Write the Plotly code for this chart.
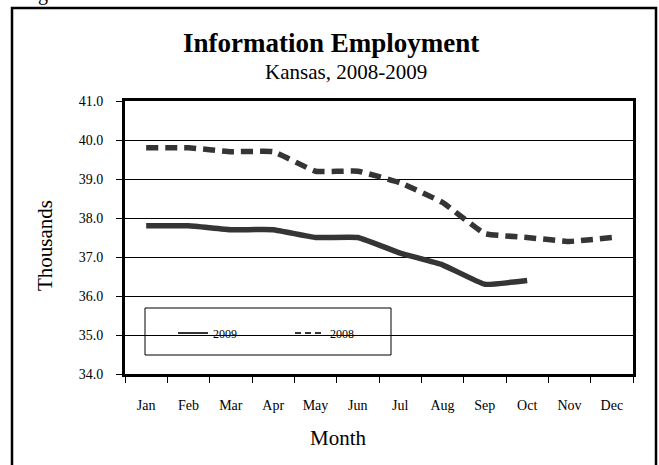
import plotly.graph_objects as go

months = ["Jan", "Feb", "Mar", "Apr", "May", "Jun", "Jul", "Aug", "Sep", "Oct", "Nov", "Dec"]
emp_2009 = [37.8, 37.8, 37.7, 37.7, 37.5, 37.5, 37.1, 36.8, 36.3, 36.4]
emp_2008 = [39.8, 39.8, 39.7, 39.7, 39.2, 39.2, 38.9, 38.4, 37.6, 37.5, 37.4, 37.5]
y_ticks = [34, 35, 36, 37, 38, 39, 40, 41]

W, H = 659, 465
L, R, T, B = 125, 633, 101, 374
def px(x):
    return (x - L) / (R - L)
def py(y):
    return (B - y) / (B - T)

FONT = "Liberation Serif"
LINE_C = "#353535"

fig = go.Figure()
fig.add_trace(go.Scatter(x=months[:len(emp_2009)], y=emp_2009, mode="lines", name="2009",
                         line=dict(color=LINE_C, width=5.5, shape="spline", smoothing=0.3),
                         showlegend=False))
fig.add_trace(go.Scatter(x=months, y=emp_2008, mode="lines", name="2008",
                         line=dict(color=LINE_C, width=5.5, dash="12px,7px", shape="spline", smoothing=0.3),
                         showlegend=False))
# legend entries
fig.add_trace(go.Scatter(x=[None], y=[None], mode="lines", name="2009",
                         line=dict(color=LINE_C, width=2)))
fig.add_trace(go.Scatter(x=[None], y=[None], mode="lines", name="2008",
                         line=dict(color=LINE_C, width=2, dash="6px,4px")))

fig.update_layout(
    width=W, height=H,
    margin=dict(l=L, r=W - R, t=T, b=H - B, pad=0),
    paper_bgcolor="white", plot_bgcolor="white",
    font=dict(family=FONT, color="black"),
    showlegend=True,
    legend=dict(orientation="h", x=px(173), y=py(333), xanchor="left", yanchor="middle",
                bgcolor="rgba(0,0,0,0)", borderwidth=0, font=dict(size=12, family=FONT),
                itemwidth=30, entrywidth=72),
    xaxis=dict(type="category", categoryorder="array", categoryarray=months,
               range=[-0.5, 11.5], showgrid=False, showline=True, linecolor="black",
               linewidth=3, mirror=True, ticks="outside", ticklen=6, tickcolor="black",
               tickson="boundaries", tickfont=dict(size=14, family=FONT),
               ticklabelstandoff=16, zeroline=False),
    yaxis=dict(range=[34, 41], tickvals=y_ticks, tickformat=".1f", showgrid=True,
               gridcolor="black", gridwidth=1, showline=True, linecolor="black",
               linewidth=3, mirror=True, ticks="outside", ticklen=6, tickcolor="black",
               tickfont=dict(size=14, family=FONT), ticklabelstandoff=10, zeroline=False),
    shapes=[
        dict(type="rect", xref="paper", yref="paper", x0=px(12), x1=px(656), y0=py(490), y1=py(8),
             line=dict(color="black", width=2.5), fillcolor="rgba(0,0,0,0)", layer="above"),
        dict(type="rect", xref="paper", yref="paper", x0=px(145), x1=px(391), y0=py(355), y1=py(308),
             line=dict(color="black", width=1), fillcolor="white", layer="between"),
    ],
    annotations=[
        dict(text="<b>Information Employment</b>", x=px(331), y=py(43), xref="paper", yref="paper",
             showarrow=False, xanchor="center", yanchor="middle", font=dict(size=27, family=FONT)),
        dict(text="Kansas, 2008-2009", x=px(346), y=py(72), xref="paper", yref="paper",
             showarrow=False, xanchor="center", yanchor="middle", font=dict(size=21, family=FONT)),
        dict(text="Thousands", x=px(45), y=py(246), xref="paper", yref="paper", textangle=-90,
             showarrow=False, xanchor="center", yanchor="middle", font=dict(size=21, family=FONT)),
        dict(text="Month", x=px(338), y=py(438), xref="paper", yref="paper",
             showarrow=False, xanchor="center", yanchor="middle", font=dict(size=21, family=FONT)),
        dict(text="g", x=px(43), y=py(-7), xref="paper", yref="paper",
             showarrow=False, xanchor="center", yanchor="middle", font=dict(size=20, family=FONT)),
    ],
)

fig.write_html("out.html", config={"displayModeBar": False},
               post_script="document.body.style.margin='0';document.body.style.overflow='hidden';")
